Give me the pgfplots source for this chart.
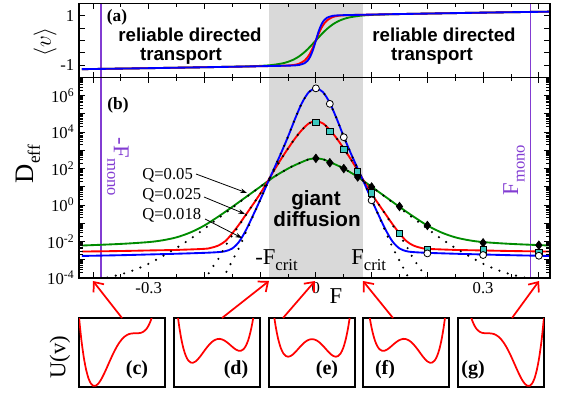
\documentclass[border=0pt]{standalone}
\usepackage{pgfplots}
\pgfplotsset{compat=1.18}
\usepackage{fontspec}
\setmainfont{Liberation Serif}
\newfontfamily\hv{Liberation Sans}
\usetikzlibrary{arrows.meta}
\definecolor{mygreen}{RGB}{0,140,0}
\definecolor{mono}{RGB}{130,60,210}
\definecolor{shade}{RGB}{217,217,217}
\definecolor{sq}{RGB}{60,200,190}
\pgfplotsset{
  panel/.style={scale only axis, anchor=north west, axis on top,
    xmin=-0.425, xmax=0.42, width=353.25pt,
    tick label style={font=\fontsize{12.5}{13}\selectfont},
    axis line style={line width=0.8pt},
    every tick/.append style={black, line width=0.6pt},
    xtick={-0.4,-0.3,-0.2,-0.1,0,0.1,0.2,0.3,0.4}, minor x tick num=1},
  inset/.style={scale only axis, anchor=north west, width=64.5pt, height=51.75pt,
    xmin=-1.8, xmax=1.8, ymin=-0.68, ymax=0.3, xtick=\empty, ytick=\empty,
    axis line style={line width=0.9pt}},
  pot/.style={red, line width=1.3pt, smooth},
  thk/.style={line width=1.4pt, smooth},
  dots/.style={black, line width=1.8pt, dash pattern=on 0pt off 6.5pt, line cap=round, smooth},
}
\begin{document}
\begin{tikzpicture}
\useasboundingbox (0,0) rectangle (420.75pt,-294.75pt);

% ---------------- panel (a)
\begin{axis}[panel, at={(59.25pt,-2.55pt)}, height=55.5pt, ymin=-1.5, ymax=1.5,
  xticklabels={}, ytick={-1,-0.5,0,0.5,1}, yticklabels={-1,,,,1}]
\addplot[fill=shade, draw=none] coordinates {(-0.085,-2)(-0.085,2)(0.085,2)(0.085,-2)} -- cycle;
\addplot[mono, line width=1.2pt] coordinates {(-0.385,-2)(-0.385,2)};
\addplot[mono, line width=1.2pt] coordinates {(0.385,-2)(0.385,2)};
\addplot[mygreen, thk] coordinates {(-0.42,-1.166)(-0.35,-1.143)(-0.3,-1.126)(-0.25,-1.107)(-0.2,-1.088)(-0.15,-1.067)(-0.12,-1.051)(-0.1,-1.033)(-0.08,-1.001)(-0.06,-0.931)(-0.05,-0.868)(-0.04,-0.777)(-0.03,-0.645)(-0.02,-0.467)(-0.015,-0.361)(-0.01,-0.246)(-0.005,-0.124)(0,0)(0.005,0.124)(0.01,0.246)(0.015,0.361)(0.02,0.467)(0.03,0.645)(0.04,0.777)(0.05,0.868)(0.06,0.931)(0.08,1.001)(0.1,1.033)(0.12,1.051)(0.15,1.067)(0.2,1.088)(0.25,1.107)(0.3,1.126)(0.35,1.143)(0.42,1.166)};
\addplot[red, thk] coordinates {(-0.42,-1.166)(-0.35,-1.143)(-0.3,-1.126)(-0.25,-1.107)(-0.2,-1.088)(-0.15,-1.068)(-0.12,-1.056)(-0.1,-1.047)(-0.08,-1.038)(-0.06,-1.026)(-0.05,-1.016)(-0.04,-0.997)(-0.03,-0.945)(-0.02,-0.812)(-0.015,-0.687)(-0.01,-0.508)(-0.005,-0.272)(0,0)(0.005,0.272)(0.01,0.508)(0.015,0.687)(0.02,0.812)(0.03,0.945)(0.04,0.997)(0.05,1.016)(0.06,1.026)(0.08,1.038)(0.1,1.047)(0.12,1.056)(0.15,1.068)(0.2,1.088)(0.25,1.107)(0.3,1.126)(0.35,1.143)(0.42,1.166)};
\addplot[blue, thk] coordinates {(-0.42,-1.166)(-0.35,-1.143)(-0.3,-1.126)(-0.25,-1.107)(-0.2,-1.088)(-0.15,-1.068)(-0.12,-1.056)(-0.1,-1.047)(-0.08,-1.038)(-0.06,-1.029)(-0.05,-1.023)(-0.04,-1.016)(-0.03,-0.995)(-0.02,-0.921)(-0.015,-0.825)(-0.01,-0.649)(-0.005,-0.368)(0,0)(0.005,0.368)(0.01,0.649)(0.015,0.825)(0.02,0.921)(0.03,0.995)(0.04,1.016)(0.05,1.023)(0.06,1.029)(0.08,1.038)(0.1,1.047)(0.12,1.056)(0.15,1.068)(0.2,1.088)(0.25,1.107)(0.3,1.126)(0.35,1.143)(0.42,1.166)};
\end{axis}

% ---------------- panel (b)
\begin{axis}[panel, at={(59.25pt,-58.05pt)}, height=150.45pt, ymode=log, ymin=1e-4, ymax=1e7,
  ytickten={-4,...,7},
  yticklabels={10\textsuperscript{-4},,10\textsuperscript{-2},,10\textsuperscript{0},,10\textsuperscript{2},,10\textsuperscript{4},,10\textsuperscript{6},},
  xticklabels={,-0.3,,,0,,,0.3,}]
\addplot[fill=shade, draw=none] coordinates {(-0.085,1e-5)(-0.085,1e8)(0.085,1e8)(0.085,1e-5)} -- cycle;
\addplot[mono, line width=1.2pt] coordinates {(-0.385,1e-5)(-0.385,1e8)};
\addplot[mono, line width=1.2pt] coordinates {(0.385,1e-5)(0.385,1e8)};
% Q=0.05
\addplot[mygreen, thk] coordinates {(-0.42,6.03e-3)(-0.35,7.41e-3)(-0.3,9.33e-3)(-0.275,0.0117)(-0.25,0.0170)(-0.225,0.0316)(-0.2,0.0759)(-0.175,0.234)(-0.15,0.794)(-0.125,2.82)(-0.1,10)(-0.075,35.5)(-0.05,100)(-0.0375,155)(-0.025,229)(-0.0125,324)(0,363)(0.0125,324)(0.025,229)(0.0375,155)(0.05,100)(0.075,35.5)(0.1,10)(0.125,2.82)(0.15,0.794)(0.175,0.234)(0.2,0.0759)(0.225,0.0316)(0.25,0.0170)(0.275,0.0117)(0.3,9.33e-3)(0.35,7.41e-3)(0.42,6.03e-3)};
% Q=0.025
\addplot[red, thk] coordinates {(-0.42,2.82e-3)(-0.35,3.02e-3)(-0.3,3.24e-3)(-0.25,3.47e-3)(-0.2,3.98e-3)(-0.1875,4.57e-3)(-0.175,6.03e-3)(-0.1625,0.0105)(-0.15,0.0282)(-0.1375,0.0891)(-0.125,0.316)(-0.1125,1.12)(-0.1,4.17)(-0.0875,17.8)(-0.075,79.4)(-0.0625,331)(-0.05,1260)(-0.0375,4470)(-0.025,1.32e4)(-0.0125,3.02e4)(0,3.98e4)(0.0125,3.02e4)(0.025,1.32e4)(0.0375,4470)(0.05,1260)(0.0625,331)(0.075,79.4)(0.0875,17.8)(0.1,4.17)(0.1125,1.12)(0.125,0.316)(0.1375,0.0891)(0.15,0.0282)(0.1625,0.0105)(0.175,6.03e-3)(0.1875,4.57e-3)(0.2,3.98e-3)(0.25,3.47e-3)(0.3,3.24e-3)(0.35,3.02e-3)(0.42,2.82e-3)};
% Q=0.018
\addplot[blue, thk] coordinates {(-0.42,1.62e-3)(-0.35,1.78e-3)(-0.3,1.95e-3)(-0.25,2.14e-3)(-0.2,2.40e-3)(-0.175,2.63e-3)(-0.1625,2.95e-3)(-0.15,4.17e-3)(-0.1375,0.01)(-0.125,0.0447)(-0.1125,0.282)(-0.1,1.91)(-0.0875,14.1)(-0.075,100)(-0.0625,708)(-0.05,5620)(-0.0375,5.25e4)(-0.025,3.98e5)(-0.0125,1.58e6)(0,2.51e6)(0.0125,1.58e6)(0.025,3.98e5)(0.0375,5.25e4)(0.05,5620)(0.0625,708)(0.075,100)(0.0875,14.1)(0.1,1.91)(0.1125,0.282)(0.125,0.0447)(0.1375,0.01)(0.15,4.17e-3)(0.1625,2.95e-3)(0.175,2.63e-3)(0.2,2.40e-3)(0.25,2.14e-3)(0.3,1.95e-3)(0.35,1.78e-3)(0.42,1.62e-3)};
% dotted approximations
\addplot[dots] coordinates {(-0.42,5.62e-5)(-0.375,1.05e-4)(-0.35,1.58e-4)(-0.325,2.82e-4)(-0.3,6.03e-4)(-0.275,1.58e-3)(-0.25,4.47e-3)(-0.225,0.0141)(-0.2,0.0501)(-0.175,0.191)(-0.15,0.708)(-0.125,2.69)(-0.1,10)(-0.075,35.5)(-0.05,100)(-0.0375,155)(-0.025,229)(-0.0125,324)(0,363)(0.0125,324)(0.025,229)(0.0375,155)(0.05,100)(0.075,35.5)(0.1,10)(0.125,2.69)(0.15,0.708)(0.175,0.191)(0.2,0.0501)(0.225,0.0141)(0.25,4.47e-3)(0.275,1.58e-3)(0.3,6.03e-4)(0.325,2.82e-4)(0.35,1.58e-4)(0.375,1.05e-4)(0.42,5.62e-5)};
\addplot[dots] coordinates {(-0.2,7.08e-5)(-0.1875,3.16e-4)(-0.175,1.12e-3)(-0.1625,5.62e-3)(-0.15,0.0224)(-0.1375,0.0794)(-0.125,0.302)(-0.1125,1.12)(-0.1,4.17)(-0.0875,17.8)(-0.075,79.4)(-0.0625,331)(-0.05,1260)(-0.0375,4470)(-0.025,1.32e4)(-0.0125,3.02e4)(0,3.98e4)(0.0125,3.02e4)(0.025,1.32e4)(0.0375,4470)(0.05,1260)(0.0625,331)(0.075,79.4)(0.0875,17.8)(0.1,4.17)(0.1125,1.12)(0.125,0.302)(0.1375,0.0794)(0.15,0.0224)(0.1625,5.62e-3)(0.175,1.12e-3)(0.1875,3.16e-4)(0.2,7.08e-5)};
\addplot[dots] coordinates {(-0.175,3.16e-5)(-0.1625,1.66e-4)(-0.15,8.91e-4)(-0.1375,4.79e-3)(-0.125,0.0355)(-0.1125,0.263)(-0.1,1.91)(-0.0875,14.1)(-0.075,100)(-0.0625,708)(-0.05,5620)(-0.0375,5.25e4)(-0.025,3.98e5)(-0.0125,1.58e6)(0,2.51e6)(0.0125,1.58e6)(0.025,3.98e5)(0.0375,5.25e4)(0.05,5620)(0.0625,708)(0.075,100)(0.0875,14.1)(0.1,1.91)(0.1125,0.263)(0.125,0.0355)(0.1375,4.79e-3)(0.15,8.91e-4)(0.1625,1.66e-4)(0.175,3.16e-5)};
% simulation markers
\addplot[only marks, mark=diamond*, mark size=3.2pt, mark options={fill=black, draw=black, line width=0.5pt}] coordinates {(0,363)(0.025,209)(0.05,100)(0.075,34.7)(0.1,9.77)(0.15,0.832)(0.2,0.0759)(0.3,8.51e-3)(0.4,6.31e-3)};
\addplot[only marks, mark=square*, mark size=2.4pt, mark options={fill=sq, draw=black, line width=0.6pt}] coordinates {(0,3.47e4)(0.025,1.07e4)(0.05,1120)(0.075,70.8)(0.1,4.57)(0.15,0.0275)(0.2,3.72e-3)(0.3,3.39e-3)(0.4,2.51e-3)};
\addplot[only marks, mark=*, mark size=2.6pt, mark options={fill=white, draw=black, line width=0.6pt}] coordinates {(0,2.51e6)(0.025,3.55e5)(0.05,5250)(0.1,1.82)(0.2,2.24e-3)(0.3,1.82e-3)(0.4,1.66e-3)};
\end{axis}

% ---------------- insets U(v)
\begin{axis}[inset, at={(59.25pt,-238.5pt)}]
\addplot[pot] coordinates {(-1.8,0.311)(-1.7,-0.012)(-1.6,-0.258)(-1.5,-0.437)(-1.4,-0.559)(-1.3,-0.632)(-1.2,-0.664)(-1.1,-0.663)(-1.0,-0.635)(-0.9,-0.588)(-0.8,-0.526)(-0.7,-0.455)(-0.6,-0.379)(-0.5,-0.302)(-0.4,-0.228)(-0.3,-0.159)(-0.2,-0.097)(-0.1,-0.044)(0,0)(0.1,0.034)(0.2,0.057)(0.3,0.073)(0.4,0.080)(0.5,0.083)(0.6,0.083)(0.7,0.085)(0.8,0.090)(0.9,0.106)(1.0,0.135)(1.1,0.185)(1.2,0.260)(1.3,0.370)(1.4,0.519)};
\end{axis}
\begin{axis}[inset, at={(130.5pt,-238.5pt)}]
\addplot[pot] coordinates {(-1.8,0.851)(-1.7,0.499)(-1.6,0.222)(-1.5,0.013)(-1.4,-0.139)(-1.3,-0.242)(-1.2,-0.304)(-1.1,-0.333)(-1.0,-0.335)(-0.9,-0.318)(-0.8,-0.286)(-0.7,-0.245)(-0.6,-0.199)(-0.5,-0.152)(-0.4,-0.108)(-0.3,-0.069)(-0.2,-0.037)(-0.1,-0.014)(0,0)(0.1,0.004)(0.2,-0.003)(0.3,-0.018)(0.4,-0.040)(0.5,-0.067)(0.6,-0.097)(0.7,-0.126)(0.8,-0.150)(0.9,-0.165)(1.0,-0.165)(1.1,-0.146)(1.2,-0.100)(1.3,-0.021)(1.4,0.100)(1.5,0.268)(1.6,0.494)(1.7,0.788)};
\end{axis}
\begin{axis}[inset, at={(201.75pt,-238.5pt)}]
\addplot[pot] coordinates {(-1.8,1.004)(-1.7,0.643)(-1.6,0.358)(-1.5,0.141)(-1.4,-0.020)(-1.3,-0.131)(-1.2,-0.202)(-1.1,-0.239)(-1.0,-0.250)(-0.9,-0.241)(-0.8,-0.218)(-0.7,-0.185)(-0.6,-0.148)(-0.5,-0.109)(-0.4,-0.074)(-0.3,-0.043)(-0.2,-0.020)(-0.1,-0.005)(0,0)(0.1,-0.005)(0.2,-0.020)(0.3,-0.043)(0.4,-0.074)(0.5,-0.109)(0.6,-0.148)(0.7,-0.185)(0.8,-0.218)(0.9,-0.241)(1.0,-0.250)(1.1,-0.239)(1.2,-0.202)(1.3,-0.131)(1.4,-0.020)(1.5,0.141)(1.6,0.358)(1.7,0.643)(1.8,1.004)};
\end{axis}
\begin{axis}[inset, at={(272.25pt,-238.5pt)}]
\addplot[pot] coordinates {(-1.7,0.788)(-1.6,0.494)(-1.5,0.268)(-1.4,0.100)(-1.3,-0.021)(-1.2,-0.100)(-1.1,-0.146)(-1.0,-0.165)(-0.9,-0.165)(-0.8,-0.150)(-0.7,-0.126)(-0.6,-0.097)(-0.5,-0.067)(-0.4,-0.040)(-0.3,-0.018)(-0.2,-0.003)(-0.1,0.004)(0,0)(0.1,-0.014)(0.2,-0.037)(0.3,-0.069)(0.4,-0.108)(0.5,-0.152)(0.6,-0.199)(0.7,-0.245)(0.8,-0.286)(0.9,-0.318)(1.0,-0.335)(1.1,-0.333)(1.2,-0.304)(1.3,-0.242)(1.4,-0.139)(1.5,0.013)(1.6,0.222)(1.7,0.499)(1.8,0.851)};
\end{axis}
\begin{axis}[inset, at={(343.5pt,-238.5pt)}]
\addplot[pot] coordinates {(-1.4,0.519)(-1.3,0.370)(-1.2,0.260)(-1.1,0.185)(-1.0,0.135)(-0.9,0.106)(-0.8,0.090)(-0.7,0.085)(-0.6,0.083)(-0.5,0.083)(-0.4,0.080)(-0.3,0.073)(-0.2,0.057)(-0.1,0.034)(0,0)(0.1,-0.044)(0.2,-0.097)(0.3,-0.159)(0.4,-0.228)(0.5,-0.302)(0.6,-0.379)(0.7,-0.455)(0.8,-0.526)(0.9,-0.588)(1.0,-0.635)(1.1,-0.663)(1.2,-0.664)(1.3,-0.632)(1.4,-0.559)(1.5,-0.437)(1.6,-0.258)(1.7,-0.012)(1.8,0.311)};
\end{axis}

% ---------------- annotations (pixel coordinates of the 561x393 picture)
\begin{scope}[x=0.75pt, y=-0.75pt]
\node[font=\bfseries\fontsize{13}{13}\selectfont] at (117,17) {(a)};
\node[font=\bfseries\fontsize{13}{13}\selectfont] at (118,105) {(b)};
\node[font=\hv\bfseries\fontsize{14}{14}\selectfont] at (190,35) {reliable directed};
\node[font=\hv\bfseries\fontsize{14}{14}\selectfont] at (181,56) {transport};
\node[font=\hv\bfseries\fontsize{14}{14}\selectfont] at (444,35) {reliable directed};
\node[font=\hv\bfseries\fontsize{14}{14}\selectfont] at (432,56) {transport};
\node[font=\hv\bfseries\fontsize{15.5}{15.5}\selectfont] at (316,200) {giant};
\node[font=\hv\bfseries\fontsize{15.5}{15.5}\selectfont] at (317,219) {diffusion};
\node[rotate=90] at (45,42) {\fontsize{17}{17}\selectfont$\langle v\rangle$};
\node[rotate=90] at (28,164) {\fontsize{20}{20}\selectfont D\raisebox{-5pt}{\fontsize{13}{13}\selectfont eff}};
\node[rotate=90] at (60,357) {\fontsize{17}{17}\selectfont U(v)};
\node at (336,296) {\fontsize{17}{17}\selectfont F};
\node[anchor=base west, inner sep=0pt] at (255,264) {\fontsize{17}{17}\selectfont -F\raisebox{-5pt}{\fontsize{12.5}{12.5}\selectfont crit}};
\node[anchor=base west, inner sep=0pt] at (351,264) {\fontsize{17}{17}\selectfont F\raisebox{-5pt}{\fontsize{12.5}{12.5}\selectfont crit}};
\node[rotate=-90, text=mono] at (118,167) {\fontsize{17}{17}\selectfont -F\raisebox{-5pt}{\fontsize{12.5}{12.5}\selectfont mono}};
\node[rotate=90, text=mono] at (514,170) {\fontsize{17}{17}\selectfont F\raisebox{-5pt}{\fontsize{12.5}{12.5}\selectfont mono}};
\node[anchor=west, inner sep=0pt, font=\fontsize{12.5}{13}\selectfont] at (142,175) {Q=0.05};
\node[anchor=west, inner sep=0pt, font=\fontsize{12.5}{13}\selectfont] at (142,195) {Q=0.025};
\node[anchor=west, inner sep=0pt, font=\fontsize{12.5}{13}\selectfont] at (142,215) {Q=0.018};
\draw[line width=0.6pt, -{Stealth[length=5pt,width=3.5pt]}] (196,174) -- (247,193);
\draw[line width=0.6pt, -{Stealth[length=5pt,width=3.5pt]}] (204,197) -- (245,214);
\draw[line width=0.6pt, -{Stealth[length=5pt,width=3.5pt]}] (205,219) -- (242,238);
\foreach \a/\b/\c/\d in {122/318/93/281, 222/318/269/281, 283/318/315/281, 393/318/363/281, 512/318/539/281}
  \draw[red, line width=1.3pt, -{Straight Barb[length=6pt,width=10pt]}] (\a,\b) -- (\c,\d);
\node[font=\bfseries\fontsize{15}{15}\selectfont] at (137,370) {(c)};
\node[font=\bfseries\fontsize{15}{15}\selectfont] at (236,370) {(d)};
\node[font=\bfseries\fontsize{15}{15}\selectfont] at (327,370) {(e)};
\node[font=\bfseries\fontsize{15}{15}\selectfont] at (385,370) {(f)};
\node[font=\bfseries\fontsize{15}{15}\selectfont] at (473,370) {(g)};
\end{scope}
\end{tikzpicture}
\end{document}
